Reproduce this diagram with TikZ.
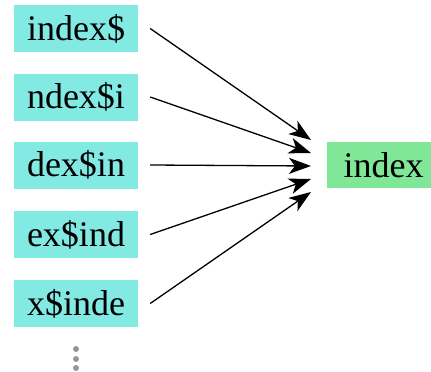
\documentclass[tikz,border=0pt]{standalone}
\usepackage{fontspec}
\setmainfont{Liberation Serif}
\usetikzlibrary{arrows.meta}
\definecolor{rotbox}{RGB}{130,234,227}
\definecolor{wordbox}{RGB}{128,230,152}
\definecolor{dotgray}{RGB}{150,150,150}
\tikzset{
  rotation/.style={fill=rotbox, minimum width=124pt, minimum height=47pt,
    inner sep=0pt, font=\fontsize{36}{40}\selectfont},
  word/.style={fill=wordbox, minimum width=113pt, minimum height=46pt,
    inner sep=0pt, font=\fontsize{36}{40}\selectfont},
  link/.style={-{Stealth[length=22pt,width=16pt,inset=6pt]}, line width=1.3pt},
  vdot/.style={circle, fill=dotgray, minimum size=6pt, inner sep=0pt}
}
\begin{document}
\begin{tikzpicture}[x=1pt,y=1pt]
  \useasboundingbox (0,-372) rectangle (431,0);
  \clip (0,-372) rectangle (431,0);
  % rotations of the word, each ending in the sentinel
  \node[rotation] (r1) at (76,-28.5) {index\$};
  \node[rotation] (r2) at (76,-97) {ndex\$i};
  \node[rotation] (r3) at (76,-165) {dex\$in};
  \node[rotation] (r4) at (76,-234.5) {ex\$ind};
  \node[rotation] (r5) at (76,-303.5) {x\$inde};
  % the word itself
  \node[word] (w) at (383.5,-165) {index};
  % arrow tips fan out along the left side of the word
  \coordinate (t1) at (311,-140);
  \coordinate (t2) at (311,-153);
  \coordinate (t3) at (311,-166);
  \coordinate (t4) at (311,-179);
  \coordinate (t5) at (311,-192);
  % ellipsis below the list
  \node[vdot] (d1) at (76,-349) {};
  \node[vdot] (d2) at (76,-359) {};
  \node[vdot] (d3) at (76,-368) {};
  % every rotation maps back to the word
  \draw[link] ([xshift=12pt]r1.east) -- (t1);
  \draw[link] ([xshift=12pt]r2.east) -- (t2);
  \draw[link] ([xshift=12pt]r3.east) -- (t3);
  \draw[link] ([xshift=12pt]r4.east) -- (t4);
  \draw[link] ([xshift=12pt]r5.east) -- (t5);
\end{tikzpicture}
\end{document}
